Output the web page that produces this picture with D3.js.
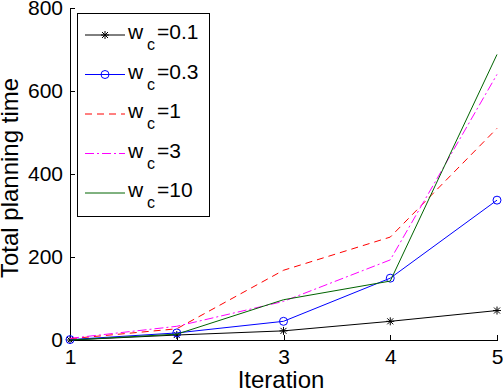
<!DOCTYPE html>
<html>
<head>
<meta charset="utf-8">
<script src="https://d3js.org/d3.v7.min.js"></script>
<style>
  body { margin: 0; background: #fff; }
  svg { display: block; font-family: "Liberation Sans", Arial, sans-serif; }
</style>
</head>
<body>
<svg id="chart" width="503" height="389"></svg>
<script>
// iterations on the x axis
var iterations = [1, 2, 3, 4, 5];

// total planning time per w_c value
var wc01 = [0, 12, 22, 45, 71];
var wc03 = [1, 17, 45, 149, 337];
var wc1 = [3, 27, 168, 248, 510];
var wc3 = [4, 33, 93, 193, 640];
var wc10 = [0, 14, 97, 142, 688];

var yTicks = [0, 200, 400, 600, 800];
var legendLabels = ["0.1", "0.3", "1", "3", "10"];

// one entry per line, styles kept apart from the values
var series = [
  {label: legendLabels[0], values: wc01, color: "#000000", dash: null, marker: "star"},
  {label: legendLabels[1], values: wc03, color: "#0000ff", dash: null, marker: "circle"},
  {label: legendLabels[2], values: wc1, color: "#ff0000", dash: "7,5", marker: null},
  {label: legendLabels[3], values: wc3, color: "#ff00ff", dash: "9,3,2,3", marker: null},
  {label: legendLabels[4], values: wc10, color: "#006400", dash: null, marker: null}
];

var svg = d3.select("#chart");

var x = d3.scaleLinear().domain([1, 5]).range([70, 497]);
var y = d3.scaleLinear().domain([0, 800]).range([340, 8]);

/**
 * draws a marker of the given kind at cx, cy
 */
function drawMarker(g, kind, cx, cy, color) {
  if (kind === "circle") {
    g.append("circle").attr("cx", cx).attr("cy", cy).attr("r", 4)
      .attr("fill", "none").attr("stroke", color).attr("stroke-width", 1);
  } else if (kind === "star") {
    var s = 4;
    var p = "M" + (cx - s) + "," + cy + "h" + (2 * s) +
            "M" + cx + "," + (cy - s) + "v" + (2 * s) +
            "M" + (cx - 3) + "," + (cy - 3) + "l6,6" +
            "M" + (cx - 3) + "," + (cy + 3) + "l6,-6";
    g.append("path").attr("d", p).attr("stroke", color).attr("stroke-width", 1).attr("fill", "none");
  }
}

// axes, ticks pointing inward, no box
var xAxis = d3.axisBottom(x).tickValues(iterations).tickFormat(d3.format("d"))
  .tickSizeInner(-5).tickSizeOuter(0).tickPadding(9);
var yAxis = d3.axisLeft(y).tickValues(yTicks)
  .tickSizeInner(-5).tickSizeOuter(0).tickPadding(7);

var gx = svg.append("g").attr("transform", "translate(0,340)").call(xAxis);
var gy = svg.append("g").attr("transform", "translate(70,0)").call(yAxis);

[gx, gy].forEach(function (g) {
  g.select(".domain").attr("stroke", "#000").attr("stroke-width", 1)
    .attr("shape-rendering", "crispEdges");
  g.selectAll(".tick line").attr("stroke", "#000").attr("shape-rendering", "crispEdges");
  g.selectAll(".tick text").attr("fill", "#000").attr("font-size", 21)
    .attr("font-family", "Liberation Sans, Arial, sans-serif");
});
gx.selectAll(".tick text").attr("dy", "0.71em");

// lines
var line = d3.line()
  .x(function (d, i) { return x(iterations[i]); })
  .y(function (d) { return y(d); });

var plot = svg.append("g");
series.forEach(function (s) {
  plot.append("path")
    .attr("d", line(s.values))
    .attr("fill", "none")
    .attr("stroke", s.color)
    .attr("stroke-width", 1)
    .attr("stroke-dasharray", s.dash);
  if (s.marker) {
    s.values.forEach(function (v, i) {
      drawMarker(plot, s.marker, x(iterations[i]), y(v), s.color);
    });
  }
});

// axis labels
svg.append("text")
  .attr("transform", "translate(18,178) rotate(-90)")
  .attr("text-anchor", "middle")
  .attr("font-size", 24)
  .text("Total planning time");

svg.append("text")
  .attr("x", 281).attr("y", 388)
  .attr("text-anchor", "middle")
  .attr("font-size", 24)
  .text("Iteration");

// legend
var legend = svg.append("g");
legend.append("rect")
  .attr("x", 77.5).attr("y", 13.5).attr("width", 132).attr("height", 203)
  .attr("fill", "#fff").attr("stroke", "#000").attr("stroke-width", 1)
  .attr("shape-rendering", "crispEdges");

series.forEach(function (s, i) {
  var ly = 35 + i * 39.5;
  legend.append("line")
    .attr("x1", 85).attr("x2", 125).attr("y1", ly).attr("y2", ly)
    .attr("stroke", s.color).attr("stroke-width", 1)
    .attr("stroke-dasharray", s.dash);
  if (s.marker) drawMarker(legend, s.marker, 105, ly, s.color);

  var t = legend.append("text").attr("y", ly + 4).attr("font-size", 21);
  t.append("tspan").attr("x", 128).text("w");
  t.append("tspan").attr("x", 147).attr("dy", 11).attr("font-size", 16).text("c");
  t.append("tspan").attr("x", 157).attr("dy", -11).text("=" + s.label);
});
</script>
</body>
</html>
